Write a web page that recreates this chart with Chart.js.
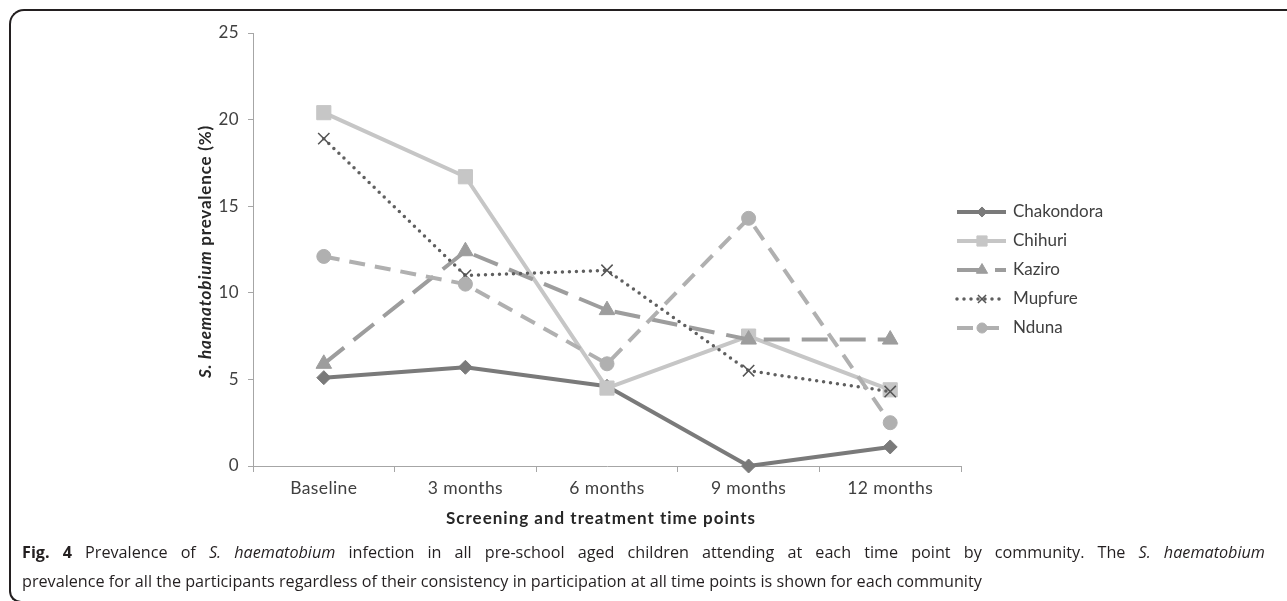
<!DOCTYPE html>
<html>
<head>
<meta charset="utf-8">
<script src="https://cdn.jsdelivr.net/npm/chart.js@4.4.1/dist/chart.umd.min.js"></script>
<style>
  html, body { margin: 0; padding: 0; background: #fff; width: 1287px; height: 601px; overflow: hidden; }
  #frame {
    position: absolute; left: 9px; top: 9px; width: 1300px; height: 594px;
    border: 2px solid #231f20; border-right: none; box-sizing: border-box;
    border-radius: 15px 0 0 12px;
  }
  #chart { position: absolute; left: 0; top: 0; }
  #caption {
    position: absolute; left: 22px; top: 538px; width: 1243px;
    font-family: 'Open Sans', sans-serif; font-size: 16.2px; line-height: 29px;
    color: #231f20; white-space: nowrap;
  }
  #caption .full { text-align: justify; text-align-last: justify; white-space: normal; }
  #caption b { font-weight: 700; }
</style>
</head>
<body>
<div id="frame"></div>
<canvas id="chart" width="1287" height="540"></canvas>
<div id="caption">
  <div class="full"><b>Fig. 4</b> Prevalence of <i>S. haematobium</i> infection in all pre-school aged children attending at each time point by community. The <i>S. haematobium</i></div>
  <div>prevalence for all the participants regardless of their consistency in participation at all time points is shown for each community</div>
</div>
<script>
// Time points (x categories)
const timePoints = ['Baseline', '3 months', '6 months', '9 months', '12 months'];

// Prevalence (%) per community
const communities = ['Chakondora', 'Chihuri', 'Kaziro', 'Mupfure', 'Nduna'];
const chakondora = [5.1, 5.7, 4.6, 0.0, 1.1];
const chihuri    = [20.4, 16.7, 4.5, 7.5, 4.4];
const kaziro     = [5.9, 12.4, 9.0, 7.3, 7.3];
const mupfure    = [18.9, 11.0, 11.3, 5.5, 4.3];
const nduna      = [12.1, 10.5, 5.9, 14.3, 2.5];

// Y axis ticks
const yMin = 0, yMax = 25, yStep = 5;

const yTitleItalic = 'S. haematobium';
const yTitleRest = ' prevalence (%)';
const xTitle = 'Screening and treatment time points';

const FONT = 'Lato, "Open Sans", sans-serif';
const TEXT = '#404040';
const AXIS = '#a6a6a6';

const styles = [
  { color: '#7a7a7a', width: 4,   dash: [],       cap: 'butt',  point: 'rectRot',  radius: 7 },
  { color: '#c6c6c6', width: 4,   dash: [],       cap: 'butt',  point: 'rect',     radius: 10 },
  { color: '#9d9d9d', width: 4,   dash: [26, 12], cap: 'butt',  point: 'triangle', radius: 9 },
  { color: '#5f5f5f', width: 3.5, dash: [0, 7],   cap: 'round', point: 'crossRot', radius: 8 },
  { color: '#b0b0b0', width: 4,   dash: [16, 10], cap: 'butt',  point: 'circle',   radius: 7 }
];
const seriesValues = [chakondora, chihuri, kaziro, mupfure, nduna];

const datasets = communities.map((name, i) => {
  const s = styles[i];
  const isCross = s.point === 'crossRot';
  return {
    label: name,
    data: seriesValues[i],
    borderColor: s.color,
    backgroundColor: s.color,
    borderWidth: s.width,
    borderDash: s.dash,
    borderCapStyle: s.cap,
    borderJoinStyle: 'round',
    tension: 0,
    pointStyle: s.point,
    pointRadius: s.radius,
    pointHoverRadius: s.radius,
    pointBackgroundColor: s.color,
    pointBorderColor: isCross ? '#555555' : s.color,
    pointBorderWidth: isCross ? 1.5 : 1,
    clip: false,
    order: communities.length - 1 - i
  };
});

// Legend with line sample + marker, and the axis titles
const decorations = {
  id: 'decorations',
  beforeDraw(chart) {
    chart.ctx.letterSpacing = '0.4px';
  },
  afterDraw(chart) {
    const ctx = chart.ctx;
    const area = chart.chartArea;

    // y-axis title: italic species name followed by plain text
    ctx.save();
    ctx.letterSpacing = '0.8px';
    ctx.fillStyle = '#262626';
    ctx.textBaseline = 'middle';
    const fItal = 'italic bold 17px ' + FONT;
    const fBold = 'bold 17px ' + FONT;
    ctx.font = fItal; const w1 = ctx.measureText(yTitleItalic).width;
    ctx.font = fBold; const w2 = ctx.measureText(yTitleRest).width;
    ctx.translate(area.left - 47, (area.top + area.bottom) / 2 + 2);
    ctx.rotate(-Math.PI / 2);
    const x0 = -(w1 + w2) / 2;
    ctx.textAlign = 'left';
    ctx.font = fItal; ctx.fillText(yTitleItalic, x0, 0);
    ctx.font = fBold; ctx.fillText(yTitleRest, x0 + w1, 0);
    ctx.restore();

    // x-axis title
    ctx.save();
    ctx.letterSpacing = '1px';
    ctx.fillStyle = '#262626';
    ctx.font = 'bold 17px ' + FONT;
    ctx.textAlign = 'center';
    ctx.textBaseline = 'middle';
    ctx.fillText(xTitle, (area.left + area.right) / 2 - 6, area.bottom + 53);
    ctx.restore();

    // legend
    const lx0 = area.right - 4, lx1 = area.right + 45, mx = area.right + 21, tx = area.right + 52;
    const ly0 = 212, lstep = 29;
    chart.data.datasets.forEach((ds, i) => {
      const y = ly0 + i * lstep;
      ctx.save();
      ctx.strokeStyle = ds.borderColor;
      ctx.lineWidth = ds.borderWidth;
      ctx.lineCap = ds.borderCapStyle;
      ctx.setLineDash(ds.borderDash);
      ctx.beginPath();
      ctx.moveTo(lx0, y); ctx.lineTo(lx1, y);
      ctx.stroke();
      ctx.restore();

      ctx.save();
      ctx.setLineDash([]);
      ctx.fillStyle = ds.pointBackgroundColor;
      ctx.strokeStyle = ds.pointBorderColor;
      ctx.lineWidth = ds.pointBorderWidth;
      Chart.helpers.drawPoint(ctx, {
        pointStyle: ds.pointStyle, radius: ds.pointRadius * 0.72, rotation: 0, borderWidth: ds.pointBorderWidth
      }, mx, y);
      ctx.restore();

      ctx.save();
      ctx.letterSpacing = '0px';
      ctx.fillStyle = TEXT;
      ctx.font = '17px ' + FONT;
      ctx.textAlign = 'left';
      ctx.textBaseline = 'middle';
      ctx.fillText(ds.label, tx, y);
      ctx.restore();
    });
    ctx.letterSpacing = '0px';
  }
};

new Chart(document.getElementById('chart'), {
  type: 'line',
  data: { labels: timePoints, datasets },
  options: {
    responsive: false,
    devicePixelRatio: 1,
    animation: false,
    events: [],
    layout: { padding: { left: 0, right: 326, top: 33, bottom: 0 } },
    plugins: { legend: { display: false }, tooltip: { enabled: false }, title: { display: false } },
    scales: {
      x: {
        type: 'category',
        offset: true,
        afterFit(s) { s.height = 74; },
        grid: { offset: true, drawOnChartArea: false, drawTicks: true, tickLength: 6, color: AXIS, lineWidth: 1 },
        border: { color: AXIS, width: 1 },
        ticks: { color: TEXT, font: { family: FONT, size: 17.5 }, padding: 6, maxRotation: 0 }
      },
      y: {
        min: yMin, max: yMax,
        afterFit(s) { s.width = 253; },
        grid: { drawOnChartArea: false, drawTicks: true, tickLength: 5, color: AXIS, lineWidth: 1 },
        border: { color: AXIS, width: 1 },
        ticks: { stepSize: yStep, color: TEXT, font: { family: FONT, size: 17 }, padding: 9 }
      }
    }
  },
  plugins: [decorations]
});
</script>
</body>
</html>
